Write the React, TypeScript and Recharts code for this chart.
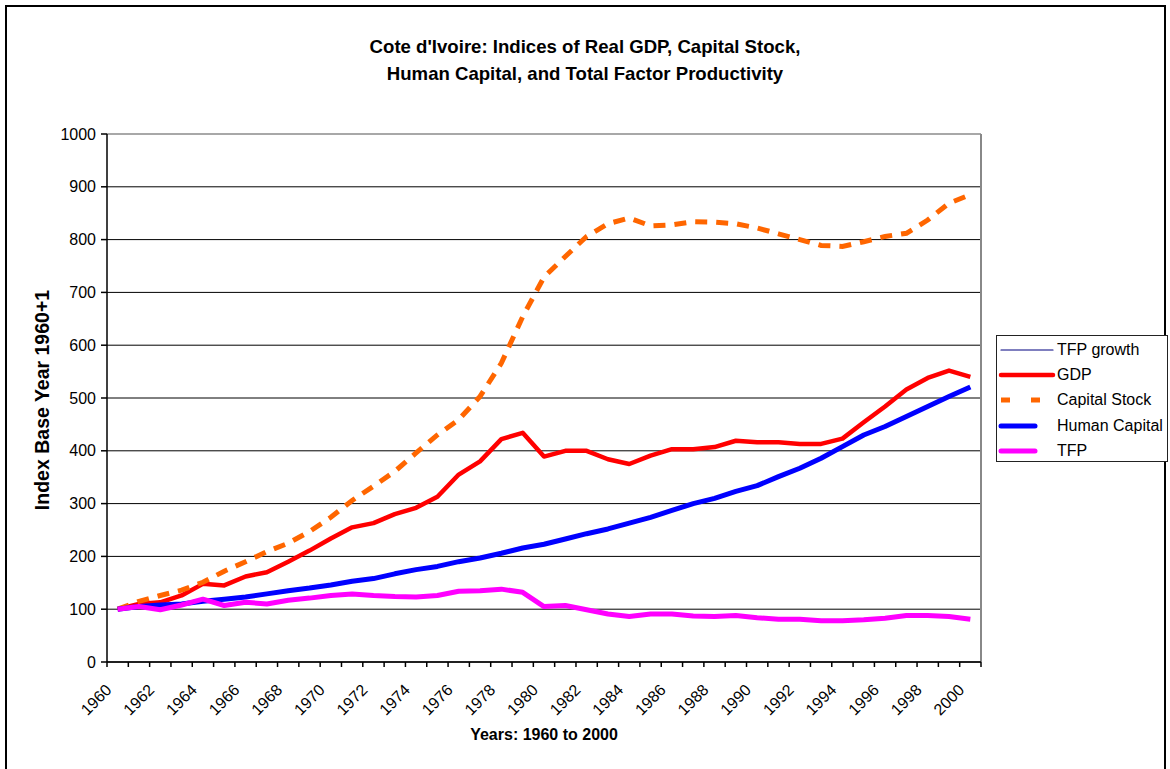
import React from "react";
import {
  LineChart,
  Line,
  XAxis,
  YAxis,
  CartesianGrid,
  Legend,
  ReferenceLine,
} from "recharts";

const years = [
  1960, 1961, 1962, 1963, 1964, 1965, 1966, 1967, 1968, 1969, 1970, 1971, 1972, 1973,
  1974, 1975, 1976, 1977, 1978, 1979, 1980, 1981, 1982, 1983, 1984, 1985, 1986, 1987,
  1988, 1989, 1990, 1991, 1992, 1993, 1994, 1995, 1996, 1997, 1998, 1999, 2000,
];

const gdp = [
  100, 110, 113, 126, 148, 145, 162, 170, 190, 211, 234, 255, 263, 280, 292, 313, 355,
  380, 422, 434, 389, 400, 400, 384, 375, 391, 403, 403, 407, 419, 416, 416, 413, 413,
  423, 454, 484, 516, 538, 552, 540,
];

const capitalStock = [
  100, 115, 126, 136, 151, 172, 190, 209, 225, 247, 274, 306, 333, 361, 396, 430, 459,
  503, 566, 654, 729, 768, 806, 830, 841, 826, 828, 834, 833, 830, 822, 811, 800, 789,
  787, 796, 806, 812, 837, 869, 885,
];

const humanCapital = [
  100, 105, 108, 110, 115, 119, 123, 129, 135, 140, 146, 153, 158, 167, 175, 181, 190,
  197, 206, 216, 223, 233, 243, 252, 263, 274, 287, 300, 310, 323, 334, 351, 367, 386,
  408, 430, 446, 465, 484, 503, 521,
];

const tfp = [
  100, 105, 99, 108, 119, 107, 113, 110, 117, 121, 126, 129, 126, 124, 123, 126, 134,
  135, 138, 132, 105, 107, 99, 91, 86, 91, 91, 87, 86, 88, 84, 81, 81, 78, 78, 80, 83,
  88, 88, 86, 81,
];

const yTicks = [0, 100, 200, 300, 400, 500, 600, 700, 800, 900, 1000];

const data = years.map((year, i) => ({
  year,
  gdp: gdp[i],
  capitalStock: capitalStock[i],
  humanCapital: humanCapital[i],
  tfp: tfp[i],
}));

// tick marks sit between categories; a label goes under every second year
const boundaryTicks = [...years.map((y) => y - 0.5), years[years.length - 1] + 0.5];
const domain = [boundaryTicks[0], boundaryTicks[boundaryTicks.length - 1]];

const FONT = '"Liberation Sans", Arial, sans-serif';

const legendOrder = ["tfpGrowth", "gdp", "capitalStock", "humanCapital", "tfp"];

const legendStyles: Record<string, { color: string; width: number; len: number; dash?: string }> = {
  tfpGrowth: { color: "#000080", width: 1.2, len: 52 },
  gdp: { color: "#ff0000", width: 4.5, len: 52 },
  capitalStock: { color: "#ff6600", width: 5, len: 41, dash: "9 21" },
  humanCapital: { color: "#0000ff", width: 5, len: 34 },
  tfp: { color: "#ff00ff", width: 5, len: 34 },
};

function YearTick({ x, y, payload, width }: any) {
  const year = payload.value + 0.5;
  if (year % 2 !== 0 || year > years[years.length - 1]) return <g />;
  const half = width / (boundaryTicks.length - 1) / 2;
  const tx = x + half - 5;
  const ty = y + 24;
  return (
    <text
      x={tx}
      y={ty}
      transform={`rotate(-45, ${tx}, ${ty})`}
      textAnchor="end"
      fontSize={16}
      fontFamily={FONT}
      fill="#000"
    >
      {year}
    </text>
  );
}

function LegendBox({ payload }: any) {
  const items = [...(payload || [])].sort(
    (a: any, b: any) => legendOrder.indexOf(a.dataKey) - legendOrder.indexOf(b.dataKey)
  );
  return (
    <div
      style={{
        border: "1px solid #222",
        background: "#fff",
        width: 172,
        height: 127,
        boxSizing: "border-box",
        paddingTop: 1,
        fontFamily: FONT,
        fontSize: 16,
      }}
    >
      {items.map((entry: any) => {
        const s = legendStyles[entry.dataKey];
        return (
          <div
            key={entry.dataKey}
            style={{ height: 25.3, display: "flex", alignItems: "center" }}
          >
            <svg width={60} height={12} style={{ flex: "none" }}>
              <line
                x1={4}
                x2={4 + s.len}
                y1={6}
                y2={6}
                stroke={s.color}
                strokeWidth={s.width}
                strokeDasharray={s.dash}
                strokeLinecap={s.dash ? "butt" : "round"}
              />
            </svg>
            <span style={{ color: "#000" }}>{entry.value}</span>
          </div>
        );
      })}
    </div>
  );
}

export default function App() {
  return (
    <div
      style={{
        position: "absolute",
        left: 0,
        top: 0,
        width: 1170,
        height: 769,
        overflow: "hidden",
        background: "#fff",
        fontFamily: FONT,
      }}
    >
      <div
        style={{
          position: "absolute",
          left: 5,
          top: 5,
          width: 1157,
          height: 800,
          border: "2px solid #000",
        }}
      />
      <div
        style={{
          position: "absolute",
          left: 0,
          width: 1170,
          top: 33,
          textAlign: "center",
          fontWeight: "bold",
          fontSize: 18.6,
          lineHeight: "27px",
          color: "#000",
        }}
      >
        Cote d'Ivoire: Indices of Real GDP, Capital Stock,
        <br />
        Human Capital, and Total Factor Productivity
      </div>
      <div
        style={{
          position: "absolute",
          left: 42,
          top: 400,
          transform: "translate(-50%, -50%) rotate(-90deg)",
          whiteSpace: "nowrap",
          fontWeight: "bold",
          fontSize: 19.5,
          color: "#000",
        }}
      >
        Index Base Year 1960+1
      </div>
      <div
        style={{
          position: "absolute",
          left: 544,
          top: 735,
          transform: "translate(-50%, -50%)",
          whiteSpace: "nowrap",
          fontWeight: "bold",
          fontSize: 16,
          color: "#000",
        }}
      >
        Years: 1960 to 2000
      </div>
      <div style={{ position: "absolute", left: 0, top: 0 }}>
        <LineChart
          width={1170}
          height={769}
          data={data}
          margin={{ top: 134, right: 189, bottom: 77, left: 47 }}
        >
          <CartesianGrid vertical={false} stroke="#000" strokeWidth={1} />
          <XAxis
            dataKey="year"
            type="number"
            domain={domain}
            ticks={boundaryTicks}
            interval={0}
            tick={<YearTick />}
            tickSize={5}
            tickMargin={0}
            height={30}
            axisLine={{ stroke: "#000", strokeWidth: 1.5 }}
            tickLine={{ stroke: "#000", strokeWidth: 1.5 }}
          />
          <YAxis
            domain={[0, 1000]}
            ticks={yTicks}
            interval={0}
            width={60}
            tickSize={6}
            tickMargin={5}
            axisLine={{ stroke: "#000", strokeWidth: 1.5 }}
            tickLine={{ stroke: "#000", strokeWidth: 1.5 }}
            tick={{ fontSize: 16, fill: "#000", fontFamily: FONT }}
          />
          <ReferenceLine y={1000} stroke="#a8a8a8" strokeWidth={2} />
          <ReferenceLine x={domain[1]} stroke="#888" strokeWidth={2} />
          <Legend
            layout="horizontal"
            align="center"
            verticalAlign="middle"
            content={<LegendBox />}
            wrapperStyle={{ left: 996, top: 335, width: 173, height: 128 }}
          />
          <Line
            dataKey="tfpGrowth"
            name="TFP growth"
            stroke="#000080"
            strokeWidth={1}
            dot={false}
            isAnimationActive={false}
          />
          <Line
            dataKey="gdp"
            name="GDP"
            stroke="#ff0000"
            strokeWidth={4.5}
            strokeLinejoin="round"
            dot={false}
            isAnimationActive={false}
          />
          <Line
            dataKey="capitalStock"
            name="Capital Stock"
            stroke="#ff6600"
            strokeWidth={5}
            strokeDasharray="12 9"
            dot={false}
            isAnimationActive={false}
          />
          <Line
            dataKey="humanCapital"
            name="Human Capital"
            stroke="#0000ff"
            strokeWidth={5}
            strokeLinejoin="round"
            dot={false}
            isAnimationActive={false}
          />
          <Line
            dataKey="tfp"
            name="TFP"
            stroke="#ff00ff"
            strokeWidth={5}
            strokeLinejoin="round"
            dot={false}
            isAnimationActive={false}
          />
        </LineChart>
      </div>
    </div>
  );
}
